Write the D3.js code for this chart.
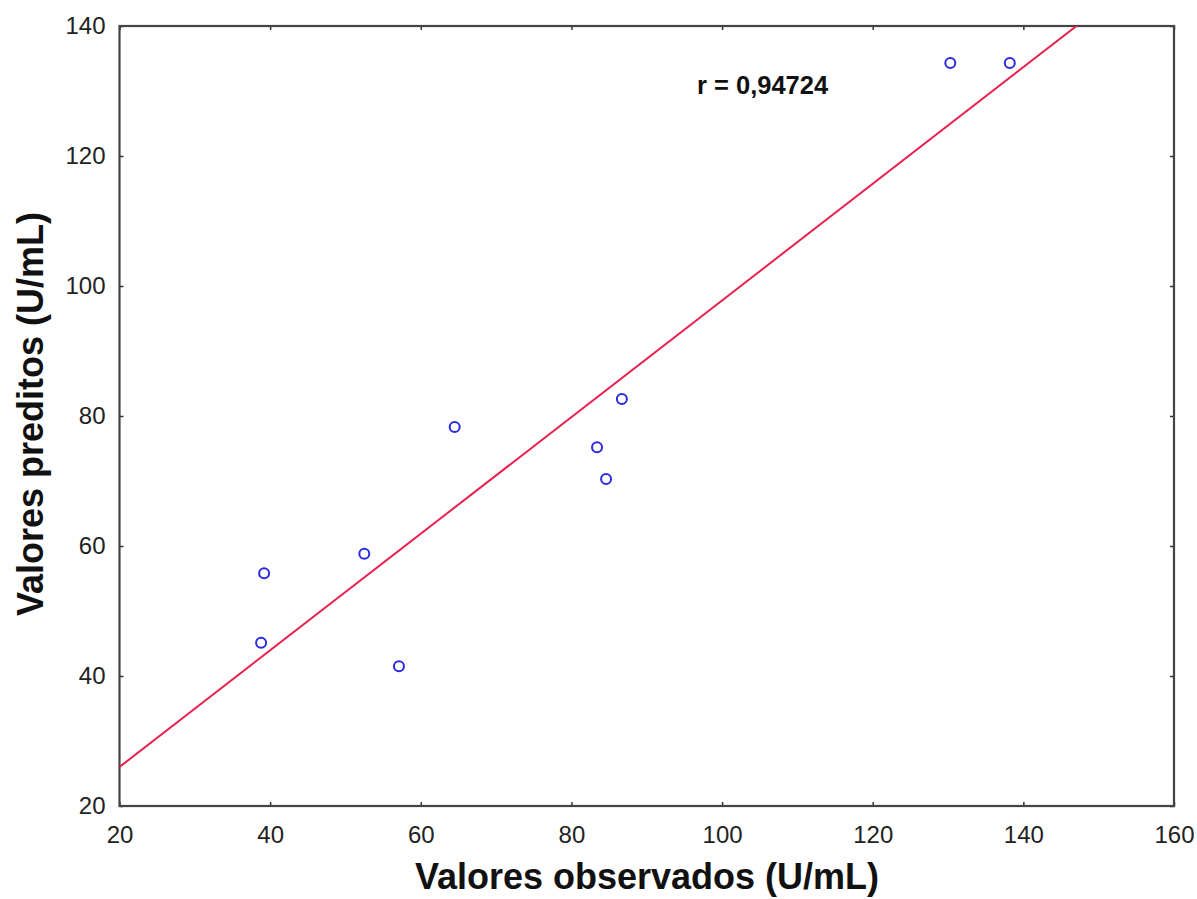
<!DOCTYPE html>
<html>
<head>
<meta charset="utf-8">
<script src="https://cdn.jsdelivr.net/npm/d3@7"></script>
<style>
  html, body { margin: 0; padding: 0; background: #fff; }
  svg { display: block; }
</style>
</head>
<body>
<script>
// Observed vs. predicted activity (U/mL)
const observed  = [130.3, 138.2, 86.7, 64.5, 83.4, 84.6, 52.5, 39.2, 38.8, 57.1];
const predicted = [134.3, 134.3, 82.6, 78.3, 75.2, 70.3, 58.8, 55.8, 45.1, 41.5];
const xTicks = [20, 40, 60, 80, 100, 120, 140, 160];
const yTicks = [20, 40, 60, 80, 100, 120, 140];
const rLabel = "r = 0,94724";
const xTitle = "Valores observados (U/mL)";
const yTitle = "Valores preditos (U/mL)";

const W = 1197, H = 899;
const m = { left: 119.5, right: 1174, top: 26, bottom: 806 };

const svg = d3.select("body").append("svg").attr("width", W).attr("height", H);

const x = d3.scaleLinear().domain([20, 160]).range([m.left, m.right]);
const y = d3.scaleLinear().domain([20, 140]).range([m.bottom, m.top]);

// Least-squares fit of predicted on observed
const xm = d3.mean(observed), ym = d3.mean(predicted);
let sxy = 0, sxx = 0;
observed.forEach((v, i) => { sxy += (v - xm) * (predicted[i] - ym); sxx += (v - xm) ** 2; });
const slope = sxy / sxx, intercept = ym - slope * xm;

svg.append("defs").append("clipPath").attr("id", "plot")
  .append("rect").attr("x", m.left).attr("y", m.top)
  .attr("width", m.right - m.left).attr("height", m.bottom - m.top);

const font = "'Liberation Sans', Arial, sans-serif";

// Axes: labels outside, short ticks pointing inward on all four sides
const tickLen = 4;
const axB = svg.append("g").attr("transform", `translate(0,${m.bottom})`)
  .call(d3.axisBottom(x).tickValues(xTicks).tickSize(-tickLen).tickPadding(20).tickFormat(d3.format("d")));
const axT = svg.append("g").attr("transform", `translate(0,${m.top})`)
  .call(d3.axisTop(x).tickValues(xTicks).tickSize(-tickLen).tickFormat(""));
const axL = svg.append("g").attr("transform", `translate(${m.left},0)`)
  .call(d3.axisLeft(y).tickValues(yTicks).tickSize(-tickLen).tickPadding(14).tickFormat(d3.format("d")));
const axR = svg.append("g").attr("transform", `translate(${m.right},0)`)
  .call(d3.axisRight(y).tickValues(yTicks).tickSize(-tickLen).tickFormat(""));

[axB, axT, axL, axR].forEach(g => {
  g.select(".domain").remove();
  g.selectAll(".tick line").attr("stroke", "#333").attr("stroke-width", 1.5);
  g.selectAll(".tick text").attr("fill", "#222").style("font-family", font).style("font-size", "24px");
});

// Frame
svg.append("rect").attr("x", m.left).attr("y", m.top)
  .attr("width", m.right - m.left).attr("height", m.bottom - m.top)
  .attr("fill", "none").attr("stroke", "#444").attr("stroke-width", 2.2);

// Fitted line
svg.append("line").attr("clip-path", "url(#plot)")
  .attr("x1", x(20)).attr("y1", y(intercept + slope * 20))
  .attr("x2", x(160)).attr("y2", y(intercept + slope * 160))
  .attr("stroke", "#e8214f").attr("stroke-width", 2);

// Points
svg.append("g").selectAll("circle").data(observed).join("circle")
  .attr("cx", d => x(d))
  .attr("cy", (d, i) => y(predicted[i]))
  .attr("r", 5)
  .attr("fill", "#fff").attr("stroke", "#2a2ae0").attr("stroke-width", 2);

// Correlation coefficient
svg.append("text").attr("x", 697).attr("y", 94)
  .style("font-family", font).style("font-weight", "bold").style("font-size", "25.5px")
  .attr("fill", "#111").text(rLabel);

// Axis titles
svg.append("text").attr("x", 647).attr("y", 889)
  .attr("text-anchor", "middle")
  .style("font-family", font).style("font-weight", "bold").style("font-size", "36px")
  .attr("fill", "#111").text(xTitle);

svg.append("text").attr("transform", `translate(43,414) rotate(-90)`)
  .attr("text-anchor", "middle")
  .style("font-family", font).style("font-weight", "bold").style("font-size", "36px")
  .attr("fill", "#111").text(yTitle);
</script>
</body>
</html>
